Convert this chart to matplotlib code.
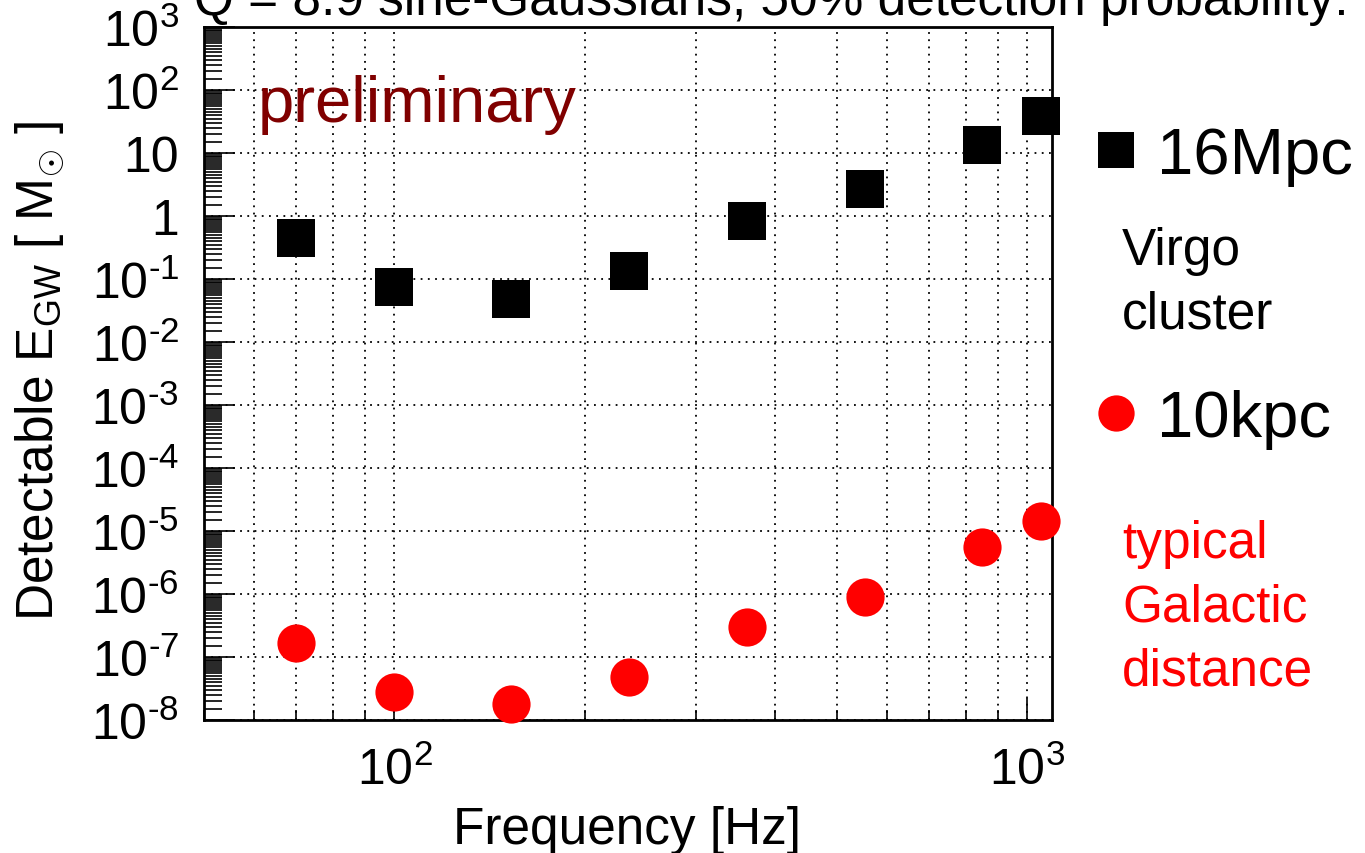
import numpy as np
import matplotlib
matplotlib.use("Agg")
import matplotlib.pyplot as plt
from matplotlib.ticker import LogLocator, FuncFormatter, NullFormatter

# donnees
freqs = [70, 100, 153, 235, 361, 554, 849, 1053]
e_virgo = [0.45, 0.074, 0.049, 0.133, 0.84, 2.7, 13.6, 38.0]
e_galactic = [1.67e-7, 2.77e-8, 1.78e-8, 4.8e-8, 3.0e-7, 9.1e-7, 5.5e-6, 1.42e-5]

label_virgo = "16Mpc"
label_galactic = "10kpc"
title = "Q = 8.9 sine-Gaussians, 50% detection probability:"

plt.rcParams['font.family'] = ['Liberation Sans', 'DejaVu Sans']
plt.rcParams['mathtext.fontset'] = 'custom'
plt.rcParams['mathtext.rm'] = 'Liberation Sans'
plt.rcParams['mathtext.it'] = 'Liberation Sans:italic'
plt.rcParams['mathtext.bf'] = 'Liberation Sans:bold'

W, H = 1365, 854
fig = plt.figure(figsize=(W / 100, H / 100), dpi=100)
ax = fig.add_axes([204 / W, 1 - 721 / H, (1052 - 204) / W, (721 - 28) / H])

ax.set_xscale('log')
ax.set_yscale('log')
ax.set_xlim(50, 1095)
ax.set_ylim(1e-8, 1e3)


def pow_label(v, pos):
    n = int(round(np.log10(v)))
    if n == 0:
        return '1'
    if n == 1:
        return '10'
    if n < 0:
        # tiret court comme dans ROOT
        return r'$10^{\text{-}%d}$' % (-n)
    return r'$10^{%d}$' % n


ax.xaxis.set_major_locator(LogLocator(base=10, numticks=30))
ax.xaxis.set_minor_locator(LogLocator(base=10, subs=np.arange(2, 10), numticks=30))
ax.yaxis.set_major_locator(LogLocator(base=10, numticks=30))
ax.yaxis.set_minor_locator(LogLocator(base=10, subs=np.arange(1.5, 10, 0.5), numticks=30))
ax.xaxis.set_major_formatter(FuncFormatter(pow_label))
ax.yaxis.set_major_formatter(FuncFormatter(pow_label))
ax.xaxis.set_minor_formatter(NullFormatter())
ax.yaxis.set_minor_formatter(NullFormatter())

ax.tick_params(which='both', direction='in', top=False, right=False, width=1.2, labelsize=36)
ax.tick_params(axis='y', which='major', length=22, pad=18)
ax.tick_params(axis='y', which='minor', length=13)
ax.tick_params(axis='x', which='major', length=16, pad=19)
ax.tick_params(axis='x', which='minor', length=7)
for sp in ax.spines.values():
    sp.set_linewidth(2)

ax.grid(True, axis='x', which='both', color='black', lw=1.3, ls=(0, (1, 3)))
ax.grid(True, axis='y', which='major', color='black', lw=1.3, ls=(0, (1, 3)))

sq, = ax.plot(freqs, e_virgo, 's', color='black', ms=27.5, mew=0, label=label_virgo,
              clip_on=False, zorder=5)
ci, = ax.plot(freqs, e_galactic, 'o', color='red', ms=27.5, mew=0, label=label_galactic,
              clip_on=False, zorder=5)

# legende a droite (deux blocs separes)
leg_kw = dict(frameon=False, fontsize=47, handlelength=0.8, handletextpad=0.22,
              borderpad=0, borderaxespad=0, markerscale=0.95, loc='center left',
              bbox_transform=fig.transFigure)
leg1 = ax.legend(handles=[sq], bbox_to_anchor=(1090 / W, 1 - 157 / H), **leg_kw)
ax.add_artist(leg1)
ax.legend(handles=[ci], bbox_to_anchor=(1090 / W, 1 - 420 / H), **leg_kw)

fig.text(1122 / W, 1 - 265 / H, "Virgo", fontsize=37, va='baseline')
fig.text(1122 / W, 1 - 329 / H, "cluster", fontsize=37, va='baseline')
fig.text(1122 / W, 1 - 558 / H, "typical", fontsize=37, va='baseline', color='red')
fig.text(1122 / W, 1 - 622 / H, "Galactic", fontsize=37, va='baseline', color='red')
fig.text(1122 / W, 1 - 686 / H, "distance", fontsize=37, va='baseline', color='red')

fig.text(258 / W, 1 - 122 / H, "preliminary", fontsize=47, va='baseline', color='#800000')

# titre coupe en haut, comme sur l'original
fig.text(194 / W, 1 - 15 / H, title, fontsize=37, va='baseline')

fig.text(627 / W, 1 - 844 / H, "Frequency [Hz]", fontsize=37, ha='center', va='baseline')
fig.text(13 / W, 1 - 371 / H, r"Detectable E$_{\mathrm{GW}}$ [ M$_{\odot}$ ]",
         fontsize=37, rotation=90, ha='left', va='center')

fig.savefig('out.png', dpi=100)
